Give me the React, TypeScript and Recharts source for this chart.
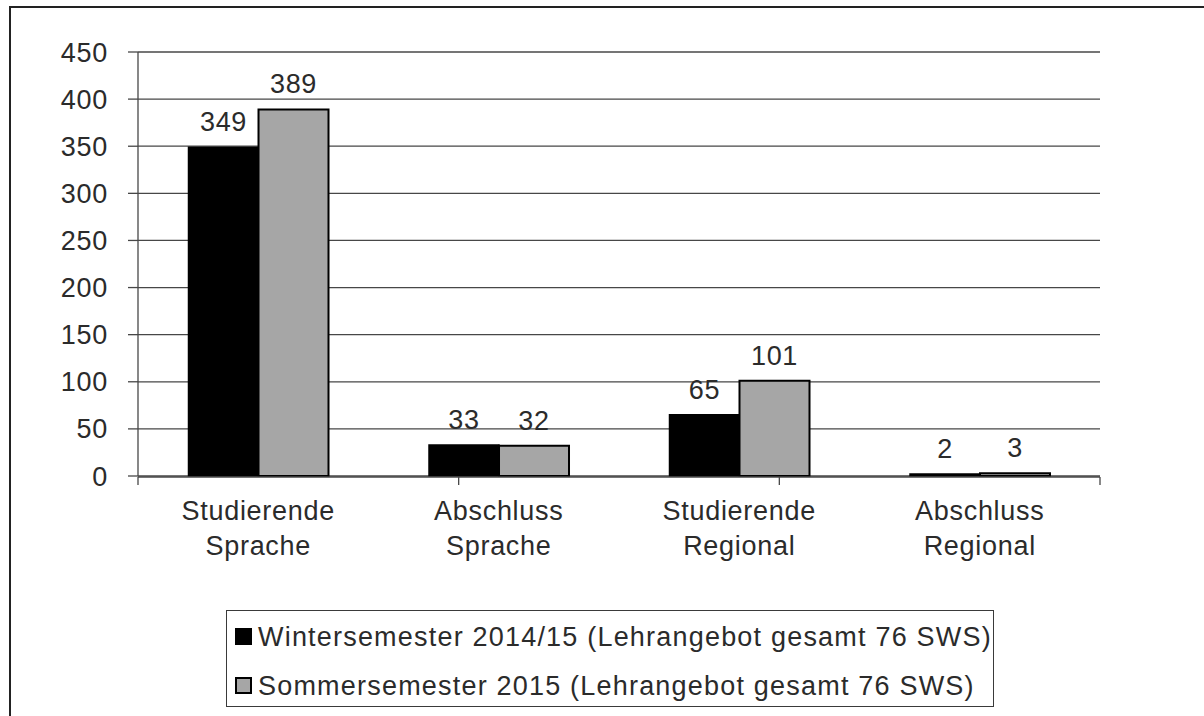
import React from 'react';
import { BarChart, Bar, XAxis, YAxis, CartesianGrid, LabelList, Legend } from 'recharts';

const categories = ['Studierende Sprache', 'Abschluss Sprache', 'Studierende Regional', 'Abschluss Regional'];
const winterValues = [349, 33, 65, 2];
const summerValues = [389, 32, 101, 3];
const yTicks = [0, 50, 100, 150, 200, 250, 300, 350, 400, 450];
const boundaryTicks = [0, 1, 2, 3, 4];
const seriesNames = [
  'Wintersemester 2014/15 (Lehrangebot gesamt 76 SWS)',
  'Sommersemester 2015 (Lehrangebot gesamt 76 SWS)',
];
const seriesColors = ['#000000', '#a6a6a6'];

const data = categories.map((name, i) => ({ name, winter: winterValues[i], summer: summerValues[i] }));

const FONT = "'Liberation Sans', Arial, Helvetica, sans-serif";
const TEXT = '#2b2b2b';
const LINE = '#474747';

const CatTick = (props: any) => {
  const { x, y, payload } = props;
  const words = String(payload.value).split(' ');
  return (
    <text x={x} y={y} textAnchor="middle" fill={TEXT} fontSize={27} fontFamily={FONT} letterSpacing={0.7}>
      {words.map((w, i) => (
        <tspan key={i} x={x} dy={i === 0 ? 44 : 35}>
          {w}
        </tspan>
      ))}
    </text>
  );
};

const EmptyTick = () => <g />;

const renderLegend = () => (
  <div
    style={{
      position: 'relative',
      width: 768,
      height: 97,
      boxSizing: 'border-box',
      border: '1.5px solid #3a3a3a',
      background: '#fff',
      fontFamily: FONT,
      fontSize: 27,
      letterSpacing: 1.2,
      color: TEXT,
    }}
  >
    {seriesNames.map((n, i) => (
      <div key={n} style={{ position: 'absolute', left: 0, top: i === 0 ? 9 : 58, height: 34, width: 766 }}>
        <div
          style={{
            position: 'absolute',
            left: 8,
            top: 8,
            width: 17,
            height: 17,
            boxSizing: 'border-box',
            background: seriesColors[i],
            border: '2px solid #000',
          }}
        />
        <div style={{ position: 'absolute', left: 31, top: 0, lineHeight: '34px', whiteSpace: 'nowrap' }}>{n}</div>
      </div>
    ))}
  </div>
);

export default function App() {
  return (
    <div style={{ position: 'absolute', left: 0, top: 0, width: 1204, height: 716, overflow: 'hidden', background: '#fff' }}>
      <div
        style={{
          position: 'absolute',
          left: 9,
          top: 6,
          width: 1300,
          height: 800,
          border: '2px solid #222',
          boxSizing: 'border-box',
        }}
      />
      <div style={{ position: 'absolute', left: 0, top: 0 }}>
        <BarChart
          width={1204}
          height={716}
          data={data}
          margin={{ top: 52, right: 104, left: 78, bottom: 238 }}
          barCategoryGap="21%"
          barGap={0}
        >
          <CartesianGrid horizontal vertical={false} stroke={LINE} strokeWidth={1.3} />
          <XAxis
            xAxisId="grid"
            type="number"
            domain={[0, 4]}
            ticks={boundaryTicks}
            tick={<EmptyTick />}
            tickSize={8}
            height={1}
            axisLine={{ stroke: LINE, strokeWidth: 1.3 }}
            tickLine={{ stroke: LINE, strokeWidth: 1.3 }}
            allowDataOverflow
          />
          <XAxis
            xAxisId="cat"
            dataKey="name"
            type="category"
            height={1}
            tickLine={false}
            axisLine={false}
            tickSize={0}
            tickMargin={0}
            interval={0}
            tick={<CatTick />}
          />
          <YAxis
            width={60}
            domain={[0, 450]}
            ticks={yTicks}
            interval={0}
            tickSize={10}
            tickMargin={20}
            axisLine={{ stroke: LINE, strokeWidth: 1.3 }}
            tickLine={{ stroke: LINE, strokeWidth: 1.3 }}
            tick={{ fill: TEXT, fontSize: 27, fontFamily: FONT, letterSpacing: 0.7 }}
          />
          <Legend
            layout="horizontal"
            verticalAlign="middle"
            align="center"
            content={renderLegend}
            wrapperStyle={{ left: 226, top: 610, width: 768, height: 97 }}
          />
          <Bar
            xAxisId="cat"
            dataKey="winter"
            name={seriesNames[0]}
            fill={seriesColors[0]}
            stroke="#000"
            strokeWidth={1.5}
            isAnimationActive={false}
          >
            <LabelList dataKey="winter" position="top" offset={16} fill={TEXT} fontSize={27} fontFamily={FONT} letterSpacing={0.7} />
          </Bar>
          <Bar
            xAxisId="cat"
            dataKey="summer"
            name={seriesNames[1]}
            fill={seriesColors[1]}
            stroke="#000"
            strokeWidth={2}
            isAnimationActive={false}
          >
            <LabelList dataKey="summer" position="top" offset={16} fill={TEXT} fontSize={27} fontFamily={FONT} letterSpacing={0.7} />
          </Bar>
        </BarChart>
      </div>
    </div>
  );
}
